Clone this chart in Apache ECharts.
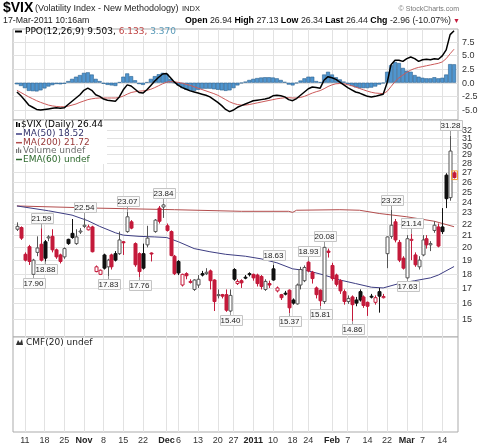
<!DOCTYPE html>
<html>
<head>
<meta charset="utf-8">
<title>$VIX daily</title>
<script src="https://cdn.jsdelivr.net/npm/echarts@6/dist/echarts.min.js"></script>
<style>
  html, body { margin: 0; padding: 0; background: #fff; }
  #chart { width: 490px; height: 447px; }
</style>
</head>
<body>
<div id="chart"></div>
<script>
// trading days on the chart, Oct 7 2010 .. Mar 17 2011
const tradingDays = [
  ['2010-10', [7, 8, 11, 12, 13, 14, 15, 18, 19, 20, 21, 22, 25, 26, 27, 28, 29]],
  ['2010-11', [1, 2, 3, 4, 5, 8, 9, 10, 11, 12, 15, 16, 17, 18, 19, 22, 23, 24, 26, 29, 30]],
  ['2010-12', [1, 2, 3, 6, 7, 8, 9, 10, 13, 14, 15, 16, 17, 20, 21, 22, 23, 27, 28, 29, 30, 31]],
  ['2011-01', [3, 4, 5, 6, 7, 10, 11, 12, 13, 14, 18, 19, 20, 21, 24, 25, 26, 27, 28, 31]],
  ['2011-02', [1, 2, 3, 4, 7, 8, 9, 10, 11, 14, 15, 16, 17, 18, 22, 23, 24, 25, 28]],
  ['2011-03', [1, 2, 3, 4, 7, 8, 9, 10, 11, 14, 15, 16, 17]]
];

const xTickDates = ['2010-10-11', '2010-10-18', '2010-10-25', '2010-11-01', '2010-11-08', '2010-11-15',
  '2010-11-22', '2010-12-01', '2010-12-06', '2010-12-13', '2010-12-20', '2010-12-27', '2011-01-03',
  '2011-01-10', '2011-01-18', '2011-01-24', '2011-02-01', '2011-02-07', '2011-02-14', '2011-02-22',
  '2011-03-01', '2011-03-07', '2011-03-14'];
const xTickText = ['11', '18', '25', 'Nov', '8', '15', '22', 'Dec', '6', '13', '20', '27', '2011',
  '10', '18', '24', 'Feb', '7', '14', '22', 'Mar', '7', '14'];

// open, close, low, high
const vixOHLC = [
  [21.5, 21.75, 21.35, 22.1], [21.65, 20.75, 20.6, 21.75], [19.45, 19.0, 18.9, 19.6], [20.05, 18.9, 18.64, 20.2],
  [17.95, 19.0, 17.9, 19.1], [19.6, 19.95, 19.3, 20.9], [20.25, 19.0, 18.9, 21.59], [20.45, 19.15, 18.88, 20.6],
  [20.8, 20.85, 20.5, 21.0], [20.9, 19.8, 19.6, 21.5], [19.8, 19.25, 19.1, 19.9], [19.4, 18.9, 18.75, 19.5],
  [19.25, 19.9, 19.1, 20.0], [20.65, 20.3, 20.2, 20.7], [21.15, 20.8, 20.7, 22.4], [20.3, 20.85, 20.2, 21.5],
  [21.3, 21.35, 21.1, 21.6], [21.75, 21.85, 21.6, 22.54], [21.45, 21.7, 21.4, 21.9], [21.7, 19.65, 19.6, 21.8],
  [18.15, 18.5, 18.1, 18.6], [17.95, 18.25, 17.9, 18.3], [19.4, 18.4, 18.3, 19.5], [18.5, 19.0, 17.83, 19.1],
  [19.4, 18.5, 18.3, 19.5], [19.5, 19.0, 18.9, 19.7], [19.5, 20.6, 19.4, 21.3], [20.45, 20.4, 19.4, 20.5],
  [21.3, 22.6, 21.2, 23.07], [22.15, 21.6, 21.5, 22.3], [20.3, 18.65, 18.5, 20.4], [19.5, 18.15, 17.76, 19.6],
  [19.5, 18.4, 18.3, 20.3], [20.2, 20.75, 20.0, 21.8], [19.55, 19.5, 18.9, 19.6], [21.3, 22.3, 21.2, 22.4],
  [23.4, 22.2, 22.0, 23.6], [23.5, 23.7, 22.5, 23.84], [21.8, 21.4, 21.3, 22.0], [21.3, 19.35, 19.3, 21.4],
  [19.3, 18.0, 17.9, 19.4], [18.9, 18.05, 17.9, 19.0], [17.2, 17.95, 17.1, 18.0], [18.0, 17.85, 17.6, 18.1],
  [17.4, 17.45, 17.3, 17.6], [16.9, 17.55, 16.8, 17.6], [17.2, 17.6, 17.0, 17.9], [18.0, 17.9, 17.8, 18.2],
  [18.0, 18.1, 17.9, 18.4], [18.2, 17.5, 16.9, 18.3], [17.55, 16.1, 15.5, 17.6], [16.5, 16.55, 16.3, 16.9],
  [16.55, 16.45, 16.3, 16.6], [16.55, 15.55, 15.45, 16.9], [15.5, 16.5, 15.4, 16.9], [18.3, 17.6, 17.5, 18.4],
  [17.3, 17.45, 17.2, 17.6], [17.5, 17.35, 17.0, 17.6], [17.75, 17.7, 17.6, 17.9], [18.0, 17.95, 17.8, 18.1],
  [17.95, 17.7, 17.5, 18.0], [17.9, 17.3, 17.1, 18.0], [17.8, 17.1, 16.9, 17.9], [16.9, 17.45, 16.8, 17.6],
  [17.3, 17.2, 17.0, 17.5], [18.35, 17.55, 17.5, 18.63], [16.8, 17.0, 16.7, 17.1], [16.55, 16.35, 16.2, 16.6],
  [16.65, 16.6, 16.5, 16.8], [16.85, 15.7, 15.37, 16.9], [16.2, 16.0, 15.9, 16.3], [15.95, 17.2, 15.9, 17.3],
  [17.2, 18.3, 16.9, 18.5], [17.5, 18.45, 17.4, 18.6], [18.85, 18.2, 18.1, 18.93], [18.1, 17.65, 17.3, 18.2],
  [17.0, 16.55, 16.3, 17.1], [16.85, 16.15, 15.81, 16.9], [16.1, 20.0, 15.95, 20.08], [19.7, 19.6, 19.2, 19.9],
  [18.6, 17.65, 17.5, 18.8], [17.9, 17.25, 17.1, 18.0], [17.5, 16.8, 16.6, 17.6], [16.75, 16.1, 15.9, 16.9],
  [16.1, 16.3, 15.95, 16.5], [16.4, 15.9, 14.86, 16.5], [16.2, 16.0, 15.8, 16.4], [16.75, 16.2, 16.1, 16.9],
  [16.4, 15.85, 15.7, 16.5], [16.05, 15.8, 15.2, 16.1], [16.45, 16.4, 16.3, 16.6], [16.05, 16.35, 15.9, 16.5],
  [16.75, 16.45, 15.4, 17.0], [16.35, 16.43, 16.3, 16.6], [19.5, 20.85, 18.4, 20.9], [20.9, 21.85, 20.7, 23.22],
  [22.15, 20.6, 20.4, 22.4], [20.4, 19.0, 18.85, 20.6], [19.15, 18.4, 18.3, 19.3], [17.7, 20.7, 17.63, 21.0],
  [20.6, 20.65, 19.0, 21.14], [19.4, 18.65, 18.5, 19.6], [18.5, 19.0, 18.3, 19.3], [19.4, 20.6, 19.3, 21.0],
  [20.7, 20.2, 19.9, 21.0], [20.2, 20.3, 19.7, 20.5], [21.4, 21.85, 21.2, 22.2], [21.7, 20.1, 20.0, 22.0],
  [21.7, 21.3, 21.1, 23.4], [26.7, 24.3, 23.4, 26.9], [24.4, 29.4, 24.1, 31.28], [26.94, 26.44, 26.34, 27.13]
];
const priorClose = 21.2;

// moving averages, read at these trading-day indices
const ma50Idx = [0, 8, 14, 18, 21, 25, 27, 31, 35, 38, 41, 45, 49, 53, 58, 62, 66, 70, 74, 78, 82, 86, 90, 93, 97, 101, 105, 107, 111];
const ma50Val = [23.6, 23.15, 22.75, 22.25, 21.75, 21.2, 21.0, 20.9, 20.85, 20.8, 20.45, 19.9, 19.65, 19.45, 19.3, 19.1,
  18.8, 18.35, 18.2, 17.9, 17.55, 17.3, 17.05, 17.0, 17.3, 17.5, 17.7, 17.9, 18.52];
const ma200Idx = [0, 20, 40, 57, 69, 70, 71, 82, 87, 92, 99, 106, 111];
const ma200Val = [23.6, 23.4, 23.25, 23.1, 23.1, 23.0, 23.2, 23.25, 23.2, 22.9, 22.6, 22.2, 21.72];

// highs / lows flagged on the chart
const noteIdx = [6, 4, 7, 17, 23, 28, 31, 37, 54, 65, 69, 74, 77, 78, 85, 95, 99, 100, 110];
const noteVal = [21.59, 17.90, 18.88, 22.54, 17.83, 23.07, 17.76, 23.84, 15.40, 18.63, 15.37, 18.93, 15.81, 20.08, 14.86, 23.22, 17.63, 21.14, 31.28];
const noteKind = ['H', 'L', 'L', 'H', 'L', 'H', 'L', 'H', 'L', 'H', 'L', 'H', 'L', 'H', 'L', 'H', 'L', 'H', 'H'];

// PPO(12,26,9)
const ppoLine = [
  -1.7, -2.4, -3.2, -4.1, -4.5, -4.9, -5.0, -4.9, -4.8, -4.7, -4.6, -4.7, -4.6, -4.0, -3.4, -2.8, -2.2, -1.4, -1.0, -1.4,
  -2.2, -2.5, -3.0, -3.2, -3.3, -3.4, -2.6, -1.3, -0.4, -0.6, -1.2, -1.8, -1.9, -1.3, -0.5, 0.3, 1.0, 1.6, 1.7, 0.9,
  0.1, -0.5, -0.9, -1.2, -1.5, -1.7, -1.9, -2.1, -2.3, -2.6, -3.1, -3.6, -4.2, -4.9, -5.3, -5.0, -4.5, -4.2, -3.9, -3.6,
  -3.3, -3.2, -3.1, -3.0, -2.8, -2.4, -2.3, -2.4, -2.6, -3.1, -3.3, -2.9, -2.3, -1.7, -1.1, -0.8, -0.9, -1.0, 0.5, 1.1,
  0.9, 0.6, 0.1, -0.4, -0.9, -1.3, -1.7, -1.9, -2.2, -2.5, -2.6, -2.5, -2.3, -2.1, 0.0, 3.3, 4.1, 4.1, 3.9, 4.4,
  4.7, 4.4, 3.9, 4.2, 4.3, 4.2, 4.4, 4.3, 4.9, 6.0, 8.8, 9.503
];
const ppoSignal = [
  -1.4, -1.8, -2.2, -2.6, -2.95, -3.3, -3.6, -3.85, -4.1, -4.25, -4.35, -4.4, -4.4, -4.3, -4.1, -3.9, -3.6, -3.35, -3.1, -2.95,
  -2.85, -2.8, -2.8, -2.8, -2.8, -2.8, -2.7, -2.45, -2.1, -1.8, -1.65, -1.55, -1.5, -1.4, -1.2, -0.9, -0.55, -0.2, 0.1, 0.2,
  0.15, 0.05, -0.1, -0.3, -0.5, -0.75, -1.0, -1.25, -1.5, -1.75, -2.0, -2.3, -2.7, -3.1, -3.5, -3.8, -4.0, -4.1, -4.1, -4.0,
  -3.85, -3.7, -3.55, -3.4, -3.25, -3.1, -2.95, -2.85, -2.75, -2.75, -2.8, -2.8, -2.7, -2.5, -2.2, -1.9, -1.65, -1.45, -1.1, -0.7,
  -0.4, -0.2, -0.15, -0.2, -0.35, -0.55, -0.8, -1.05, -1.3, -1.55, -1.75, -1.9, -1.95, -2.0, -1.6, -0.7, 0.2, 0.9, 1.4, 1.9,
  2.3, 2.6, 2.8, 2.95, 3.1, 3.25, 3.4, 3.55, 3.8, 4.4, 5.3, 6.133
];
const ppoHist = [
  -0.3, -0.6, -1.0, -1.5, -1.55, -1.6, -1.4, -1.05, -0.7, -0.45, -0.25, -0.3, -0.2, 0.3, 0.7, 1.1, 1.4, 1.8, 1.9, 1.5,
  0.7, 0.3, -0.2, -0.4, -0.5, -0.6, 0.1, 1.1, 1.7, 1.2, 0.45, -0.25, -0.4, 0.1, 0.7, 1.2, 1.55, 1.8, 1.6, 0.7,
  0.0, -0.5, -1.0, -1.3, -1.5, -1.5, -1.3, -1.1, -1.1, -1.1, -1.2, -1.3, -1.4, -1.5, -1.4, -1.0, -0.5, -0.1, 0.2, 0.5,
  0.7, 0.85, 0.95, 1.0, 1.0, 0.95, 0.8, 0.5, 0.15, -0.35, -0.5, -0.1, 0.4, 0.8, 1.1, 1.1, 0.3, 0.1, 1.5, 2.0,
  1.5, 1.0, 0.6, 0.2, -0.3, -0.6, -0.85, -1.0, -1.0, -1.0, -0.9, -0.7, -0.35, -0.1, 2.0, 3.2, 3.8, 3.6, 2.7, 2.2,
  2.0, 1.4, 1.1, 0.9, 0.8, 0.8, 1.0, 0.8, 0.9, 1.5, 3.4, 3.37
];

const priceTicks = [15, 16, 17, 18, 19, 20, 21, 22, 23, 24, 25, 26, 27, 28, 29, 30, 31, 32];
const ppoTicks = [-5, -2.5, 0, 2.5, 5, 7.5];

const FONT = '"Liberation Sans", Arial, sans-serif';
const VERD = '"DejaVu Sans", Verdana, sans-serif';
const RED = '#c41a3b';
const BLACK = '#111';
const GRID_LINE = '#e2e2e2';

const dates = [];
tradingDays.forEach(([m, days]) => days.forEach(d => dates.push(m + '-' + String(d).padStart(2, '0'))));
// one empty slot each side so the first/last candle are not on the frame
const cats = [''].concat(dates, ['']);
const tickMap = {};
xTickDates.forEach((d, k) => { tickMap[d] = xTickText[k]; });
const isTick = (idx, val) => tickMap[val] !== undefined;

const candleData = vixOHLC.map((r, i) => [i + 1, r[0], r[1], r[2], r[3], i ? vixOHLC[i - 1][1] : priorClose]);
const noteData = noteIdx.map((i, k) => [i + 1, noteVal[k], noteKind[k] === 'H' ? 1 : 0]);

function renderCandle(params, api) {
  const x = api.value(0);
  const o = api.value(1), c = api.value(2), l = api.value(3), h = api.value(4), pc = api.value(5);
  const yo = api.coord([x, o])[1], yc = api.coord([x, c])[1];
  const yl = api.coord([x, l])[1], yh = api.coord([x, h])[1];
  const cx = Math.round(api.coord([x, o])[0]) + 0.5;
  const color = c < pc ? RED : BLACK;
  const filled = c < o;
  const edge = filled ? color : (color === BLACK ? '#555' : color);
  const top = Math.min(yo, yc), bot = Math.max(yo, yc);
  const children = [
    { type: 'line', shape: { x1: cx, y1: yh, x2: cx, y2: yl }, style: { stroke: edge, lineWidth: 1 } },
    { type: 'rect', shape: { x: cx - 1.5, y: top, width: 3, height: Math.max(bot - top, 1) },
      style: { fill: filled ? color : '#fff', stroke: edge, lineWidth: 1 } }
  ];
  if (params.dataIndex === vixOHLC.length - 1) {
    children.push({ type: 'rect', shape: { x: cx - 3, y: top - 2, width: 6, height: bot - top + 4 },
      style: { fill: 'none', stroke: '#f2a23a', lineWidth: 1 } });
  }
  return { type: 'group', children };
}

function renderNote(params, api) {
  const x = api.value(0), v = api.value(1), high = api.value(2) === 1;
  const p = api.coord([x, v]);
  const cx = Math.round(p[0]) + 0.5;
  const ty = Math.round(high ? p[1] - 9.5 : p[1] + 8.5);
  const w = 22;
  return {
    type: 'group',
    children: [
      { type: 'line', shape: { x1: cx, y1: p[1], x2: cx, y2: high ? ty + 5 : ty - 5 }, style: { stroke: '#999', lineWidth: 1 } },
      { type: 'rect', shape: { x: Math.round(cx - w / 2) + 0.5, y: ty - 5.5, width: w, height: 10 },
        style: { fill: '#fafafa', stroke: '#c4c4c4', lineWidth: 1 } },
      { type: 'text', x: cx, y: ty, style: { text: v.toFixed(2), font: '8px ' + FONT, fill: '#222',
        textAlign: 'center', textVerticalAlign: 'middle' } }
    ]
  };
}

// horizontal grid lines and right-hand labels for the value scales
function guideSeries(axisIdx, ticks, fmt) {
  return {
    type: 'custom', xAxisIndex: axisIdx, yAxisIndex: axisIdx, z: 1, silent: true,
    data: ticks.map(t => [0, t]),
    encode: { x: 0, y: 1 },
    renderItem(params, api) {
      const cs = params.coordSys;
      const y = Math.round(api.coord([0, api.value(1)])[1]) + 0.5;
      return {
        type: 'group',
        children: [
          { type: 'line', shape: { x1: cs.x, y1: y, x2: cs.x + cs.width, y2: y }, style: { stroke: GRID_LINE, lineWidth: 1 } },
          { type: 'text', x: cs.x + cs.width + 4, y: y, style: { text: fmt(api.value(1)), font: '9px ' + FONT, fill: '#333',
            textAlign: 'left', textVerticalAlign: 'middle' } }
        ]
      };
    }
  };
}

function xAxisFor(gridIndex, showLabels) {
  return {
    type: 'category', gridIndex, data: cats, boundaryGap: false,
    axisLine: { show: false }, axisTick: { show: false },
    axisLabel: {
      show: showLabels, interval: isTick, margin: 4, color: '#333', fontSize: 9, fontFamily: FONT,
      formatter: (val) => {
        const t = tickMap[val];
        return (isNaN(t) || t.length === 4) ? '{b|' + t + '}' : t;
      },
      rich: { b: { fontWeight: 'bold', fontSize: 9, fontFamily: FONT, color: '#222' } }
    },
    splitLine: { show: true, interval: isTick, lineStyle: { color: GRID_LINE, width: 1 } }
  };
}

const hiddenY = { axisLine: { show: false }, axisTick: { show: false }, axisLabel: { show: false }, splitLine: { show: false } };
const gridBase = { left: 13, width: 445, show: true, borderColor: '#ababab', borderWidth: 1, backgroundColor: '#fff' };

function legendText(x, y, text, fill, extra) {
  return Object.assign({ type: 'text', x, y, z: 20,
    style: { text, font: '9px ' + VERD, fill, textVerticalAlign: 'middle' } }, extra || {});
}

const chart = echarts.init(document.getElementById('chart'));

const option = {
  animation: false,
  backgroundColor: '#fff',
  grid: [
    Object.assign({ top: 29, height: 91 }, gridBase),
    Object.assign({ top: 120, height: 217 }, gridBase),
    Object.assign({ top: 337, height: 95 }, gridBase)
  ],
  xAxis: [xAxisFor(0, false), xAxisFor(1, false), xAxisFor(2, true)],
  yAxis: [
    Object.assign({ type: 'value', gridIndex: 0, min: -6.83, max: 9.83 }, hiddenY),
    Object.assign({ type: 'log', gridIndex: 1, min: 13.97, max: 33.29 }, hiddenY),
    Object.assign({ type: 'value', gridIndex: 2, min: 0, max: 1 }, hiddenY)
  ],
  series: [
    guideSeries(0, ppoTicks, v => v.toFixed(1)),
    guideSeries(1, priceTicks, v => String(v)),
    {
      name: 'PPO hist', type: 'bar', xAxisIndex: 0, yAxisIndex: 0, z: 2, barWidth: 4,
      data: ppoHist.map((v, i) => [i + 1, v]),
      itemStyle: { color: '#4f95cf', borderColor: '#2b618f', borderWidth: 0.6 }
    },
    {
      name: 'Signal', type: 'line', xAxisIndex: 0, yAxisIndex: 0, z: 3, symbol: 'none',
      data: ppoSignal.map((v, i) => [i + 1, v]),
      lineStyle: { color: '#cc5a5a', width: 1 }
    },
    {
      name: 'PPO', type: 'line', xAxisIndex: 0, yAxisIndex: 0, z: 4, symbol: 'none',
      data: ppoLine.map((v, i) => [i + 1, v]),
      lineStyle: { color: '#000', width: 1.5 }
    },
    {
      name: 'MA(200)', type: 'line', xAxisIndex: 1, yAxisIndex: 1, z: 2, symbol: 'none',
      data: ma200Idx.map((i, k) => [i + 1, ma200Val[k]]),
      lineStyle: { color: '#b34d4d', width: 1 }
    },
    {
      name: 'MA(50)', type: 'line', xAxisIndex: 1, yAxisIndex: 1, z: 2, symbol: 'none',
      data: ma50Idx.map((i, k) => [i + 1, ma50Val[k]]),
      lineStyle: { color: '#3d3d82', width: 1 }
    },
    {
      name: '$VIX', type: 'custom', xAxisIndex: 1, yAxisIndex: 1, z: 5,
      data: candleData, encode: { x: 0, y: [1, 2, 3, 4] }, renderItem: renderCandle
    },
    {
      name: 'notes', type: 'custom', xAxisIndex: 1, yAxisIndex: 1, z: 6, clip: false,
      data: noteData, encode: { x: 0, y: 1 }, renderItem: renderNote
    }
  ],
  graphic: [
    { type: 'text', x: 3, y: 8, style: { text: '$VIX', font: 'bold 14px ' + FONT, fill: '#000', textVerticalAlign: 'middle' } },
    { type: 'text', x: 35, y: 9, style: { text: '(Volatility Index - New Methodology)', font: '9px ' + FONT, fill: '#222', textVerticalAlign: 'middle' } },
    { type: 'text', x: 182, y: 9, style: { text: 'INDX', font: '7.5px ' + FONT, fill: '#222', textVerticalAlign: 'middle' } },
    { type: 'text', x: 459, y: 9, style: { text: '\u00a9 StockCharts.com', font: '7px ' + FONT, fill: '#777', textAlign: 'right', textVerticalAlign: 'middle' } },
    { type: 'text', x: 3, y: 20.5, style: { text: '17-Mar-2011 10:16am', font: '8.8px ' + FONT, fill: '#222', textVerticalAlign: 'middle' } },
    { type: 'text', x: 451, y: 20.5, style: {
      text: '{b|Open} 26.94 {b|High} 27.13 {b|Low} 26.34 {b|Last} 26.44 {b|Chg} -2.96 (-10.07%)',
      font: '8.8px ' + FONT, fill: '#222', textAlign: 'right', textVerticalAlign: 'middle',
      rich: { b: { font: 'bold 8.8px ' + FONT, fill: '#000' } } } },
    { type: 'text', x: 453, y: 21, style: { text: '\u25bc', font: '7px ' + FONT, fill: RED, textVerticalAlign: 'middle' } },

    // legend backgrounds hide the grid behind the labels
    { type: 'rect', z: 15, shape: { x: 14, y: 30, width: 166, height: 6 }, style: { fill: '#fff' } },
    { type: 'rect', z: 15, shape: { x: 14, y: 121, width: 93, height: 43 }, style: { fill: '#fff' } },
    { type: 'rect', z: 15, shape: { x: 14, y: 338, width: 80, height: 9 }, style: { fill: '#fff' } },

    { type: 'line', z: 20, shape: { x1: 15, y1: 31.5, x2: 22, y2: 31.5 }, style: { stroke: '#000', lineWidth: 2 } },
    legendText(25, 31.5, '{k|PPO(12,26,9) 9.503,} {r|6.133,} {c|3.370}', '#000', { style: {
      text: '{k|PPO(12,26,9) 9.503,} {r|6.133,} {c|3.370}', font: '9px ' + VERD, textVerticalAlign: 'middle',
      rich: { k: { font: '9px ' + VERD, fill: '#000' }, r: { font: '9px ' + VERD, fill: '#c04444' }, c: { font: '9px ' + VERD, fill: '#5a9ab8' } } } }),

    { type: 'rect', z: 20, shape: { x: 16, y: 122, width: 1.5, height: 5 }, style: { fill: '#000' } },
    { type: 'rect', z: 20, shape: { x: 18.5, y: 123, width: 1.5, height: 4 }, style: { fill: '#000' } },
    legendText(21, 125, '$VIX (Daily) 26.44', '#000'),
    { type: 'line', z: 20, shape: { x1: 16, y1: 134, x2: 22, y2: 134 }, style: { stroke: '#3d3d82', lineWidth: 1.5 } },
    legendText(23, 134, 'MA(50) 18.52', '#33336b'),
    { type: 'line', z: 20, shape: { x1: 16, y1: 142.7, x2: 22, y2: 142.7 }, style: { stroke: '#b34d4d', lineWidth: 1.5 } },
    legendText(23, 142.7, 'MA(200) 21.72', '#993838'),
    { type: 'rect', z: 20, shape: { x: 16, y: 149, width: 1.2, height: 4 }, style: { fill: '#777' } },
    { type: 'rect', z: 20, shape: { x: 18, y: 147.5, width: 1.2, height: 5.5 }, style: { fill: '#777' } },
    { type: 'rect', z: 20, shape: { x: 20, y: 149.5, width: 1.2, height: 3.5 }, style: { fill: '#777' } },
    legendText(23, 151, 'Volume undef', '#6f6f6f'),
    { type: 'line', z: 20, shape: { x1: 16, y1: 159.5, x2: 22, y2: 159.5 }, style: { stroke: '#2f6a2f', lineWidth: 1.5 } },
    legendText(23, 159.5, 'EMA(60) undef', '#2f6a2f'),

    { type: 'polygon', z: 20, shape: { points: [[16, 345], [18, 340], [20, 343], [22, 339], [23, 345]] }, style: { fill: '#333' } },
    legendText(26, 342.5, 'CMF(20) undef', '#222')
  ]
};

chart.setOption(option);
</script>
</body>
</html>
